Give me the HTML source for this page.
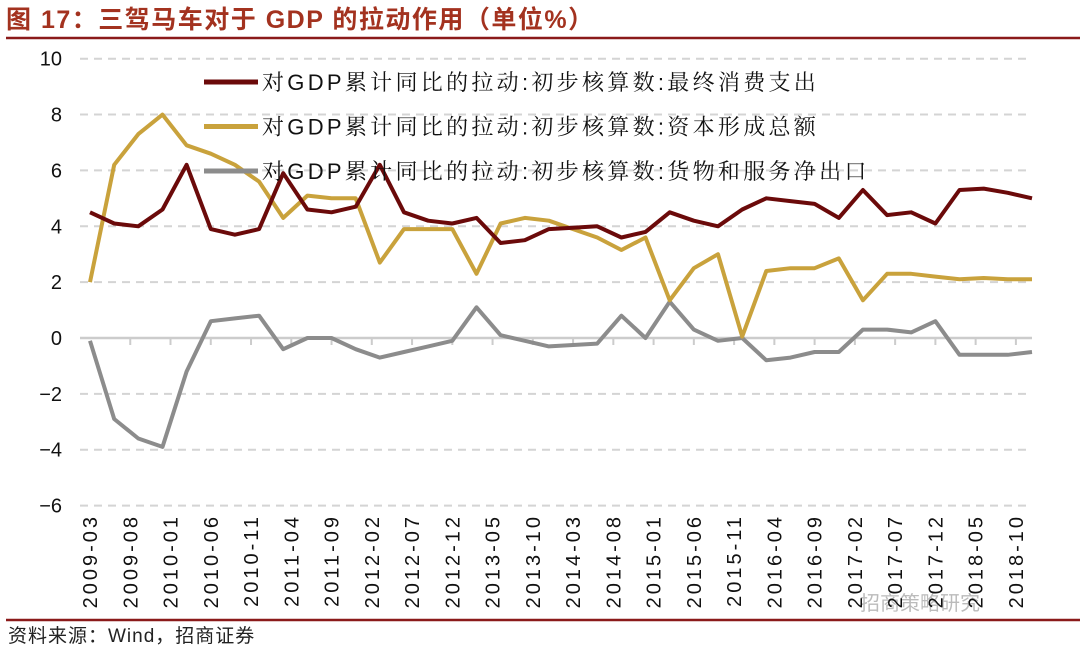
<!DOCTYPE html>
<html><head><meta charset="utf-8"><style>
body{margin:0;background:#fff;width:1080px;height:648px;overflow:hidden;font-family:"Liberation Sans","Noto Sans CJK SC",sans-serif}
</style></head><body>
<svg id="chart" width="1080" height="648" xmlns="http://www.w3.org/2000/svg">
<text x="6" y="28" font-size="25" letter-spacing="1.5" font-weight="bold" fill="#a3321f" style="font-family:'Liberation Sans','Noto Sans CJK SC',sans-serif">图 17：三驾马车对于 GDP 的拉动作用（单位%）</text>
<line x1="6" y1="38" x2="1080" y2="38" stroke="#8b1a1a" stroke-width="2.5"/>
<line x1="6" y1="620" x2="1080" y2="620" stroke="#8b1a1a" stroke-width="2.5"/>
<text x="8" y="642" font-size="19" letter-spacing="1" fill="#222" style="font-family:'Liberation Sans','Noto Sans CJK SC',sans-serif">资料来源：Wind，招商证券</text>
<text x="860" y="610" font-size="20" fill="#bbb" style="font-family:'Noto Sans CJK SC',sans-serif">招商策略研究</text>
<g id="grid"></g><g id="axes"></g><g id="series"></g><g id="legend"></g>
</svg>
<script>
const categories=["2009-03","2009-06","2009-09","2009-12","2010-03","2010-06","2010-09","2010-12","2011-03","2011-06","2011-09","2011-12","2012-03","2012-06","2012-09","2012-12","2013-03","2013-06","2013-09","2013-12","2014-03","2014-06","2014-09","2014-12","2015-03","2015-06","2015-09","2015-12","2016-03","2016-06","2016-09","2016-12","2017-03","2017-06","2017-09","2017-12","2018-03","2018-06","2018-09","2018-12"];
const consumption=[4.5,4.1,4.0,4.6,6.2,3.9,3.7,3.9,5.9,4.6,4.5,4.7,6.2,4.5,4.2,4.1,4.3,3.4,3.5,3.9,3.95,4.0,3.6,3.8,4.5,4.2,4.0,4.6,5.0,4.9,4.8,4.3,5.3,4.4,4.5,4.1,5.3,5.35,5.2,5.0];
const capital=[2.0,6.2,7.3,8.0,6.9,6.6,6.2,5.6,4.3,5.1,5.0,5.0,2.7,3.9,3.9,3.9,2.3,4.1,4.3,4.2,3.9,3.6,3.15,3.6,1.35,2.5,3.0,0.05,2.4,2.5,2.5,2.85,1.35,2.3,2.3,2.2,2.1,2.15,2.1,2.1];
const netExports=[-0.1,-2.9,-3.6,-3.9,-1.2,0.6,0.7,0.8,-0.4,0.0,0.0,-0.4,-0.7,-0.5,-0.3,-0.1,1.1,0.1,-0.1,-0.3,-0.25,-0.2,0.8,0.0,1.3,0.3,-0.1,0.0,-0.8,-0.7,-0.5,-0.5,0.3,0.3,0.2,0.6,-0.6,-0.6,-0.6,-0.5];
const yTicks=[10,8,6,4,2,0,-2,-4,-6];
const xLabels=["2009-03","2009-08","2010-01","2010-06","2010-11","2011-04","2011-09","2012-02","2012-07","2012-12","2013-05","2013-10","2014-03","2014-08","2015-01","2015-06","2015-11","2016-04","2016-09","2017-02","2017-07","2017-12","2018-05","2018-10"];
const seriesNames=["对GDP累计同比的拉动:初步核算数:最终消费支出","对GDP累计同比的拉动:初步核算数:资本形成总额","对GDP累计同比的拉动:初步核算数:货物和服务净出口"];
const NS="http://www.w3.org/2000/svg";
const X0=90,X1=1032,Y0=338,YS=27.93;
const n=categories.length;
function xi(i){return X0+(X1-X0)*i/(n-1);}
function xMonth(m){return X0+(X1-X0)*m/((n-1)*3);}
function y(v){return Y0-v*YS;}
function mk(tag,attrs,parent){const e=document.createElementNS(NS,tag);for(const k in attrs)e.setAttribute(k,attrs[k]);parent.appendChild(e);return e;}
const grid=document.getElementById('grid'),axes=document.getElementById('axes'),ser=document.getElementById('series'),leg=document.getElementById('legend');
yTicks.forEach(v=>{
  if(v!==0){const l=mk('line',{x1:80,x2:1032,y1:y(v),y2:y(v),stroke:'#d4d4d4','stroke-width':2,'stroke-dasharray':'8,6'},grid);
  
  }
  const t=mk('text',{x:62,y:y(v)+7,'font-size':20,'text-anchor':'end',fill:'#111'},axes);
  t.textContent=String(v).replace('-','−');
  
  
});
const za=mk('line',{x1:80,x2:1032,y1:Y0,y2:Y0,stroke:'#ccc','stroke-width':2.5},axes);


xLabels.forEach((lab,k)=>{
  const [yy,mm]=lab.split('-').map(Number);
  const m=(yy-2009)*12+mm-3;
  const x=xMonth(m);
  if(k>0){const tk=mk('line',{x1:x,x2:x,y1:Y0,y2:Y0+7,stroke:'#ccc','stroke-width':2},axes);
  
  }
  const t=mk('text',{x:0,y:0,'font-size':20,'letter-spacing':3,'text-anchor':'end',fill:'#111',transform:`translate(${x+7},514) rotate(-90)`},axes);
  t.textContent=lab;
  
  
});
const colors=['#6b0a0a','#c9a23c','#8c8c8c'];
const data=[consumption,capital,netExports];
const names=['consumption-line','capital-formation-line','net-exports-line'];
[2,1,0].forEach(s=>{
  const p=mk('polyline',{points:data[s].map((v,i)=>xi(i).toFixed(1)+','+y(v).toFixed(1)).join(' '),fill:'none',stroke:colors[s],'stroke-width':4,'stroke-linejoin':'round'},ser);
  
  
});
seriesNames.forEach((nm,s)=>{
  const yy=82+s*44.5;
  const g=mk('g',{},leg);
  
  
  mk('line',{x1:204,x2:258,y1:yy,y2:yy,stroke:colors[s],'stroke-width':5},g);
  const t=mk('text',{x:262,y:yy+8,'font-size':22,'letter-spacing':3.3,fill:'#111',style:"font-family:'Liberation Sans','Noto Serif CJK SC',serif"},g);
  t.textContent=nm;
});
</script>
</body></html>
